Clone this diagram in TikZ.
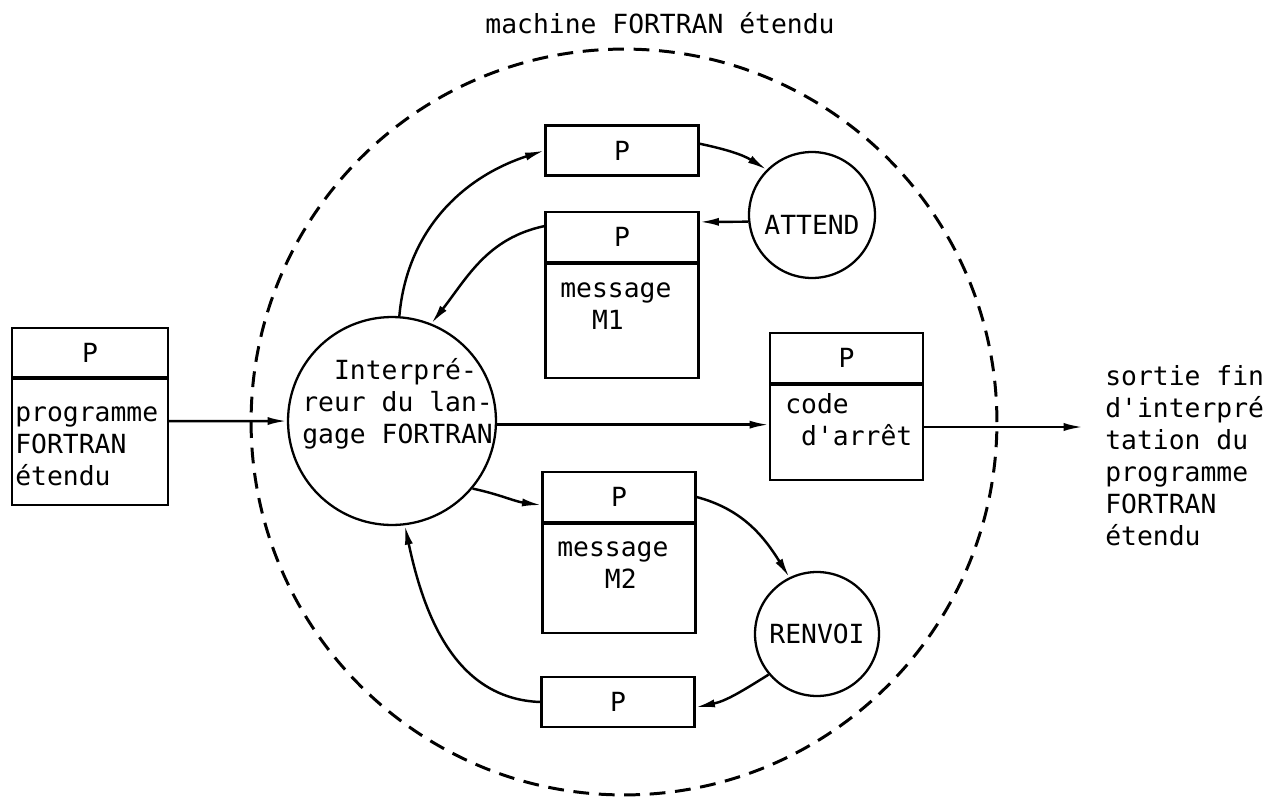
\documentclass[tikz,border=0pt]{standalone}
\usepackage{fontspec}
\setmonofont{DejaVu Sans Mono}
\usetikzlibrary{arrows.meta, positioning}

\begin{document}
\begin{tikzpicture}[
    x=0.02cm, y=-0.02cm,
    every node/.style={font=\ttfamily\fontsize{15}{18.2}\selectfont},
    hdr/.style={draw, line width=1.3pt, minimum width=3.06cm, minimum height=1cm, inner sep=0pt},
    bdy/.style={draw, line width=1.3pt, minimum width=3.06cm, inner sep=0pt, anchor=north},
    proc/.style={draw, circle, line width=1.3pt, inner sep=0pt},
    frontier/.style={draw, circle, line width=1.7pt, dash pattern=on 9pt off 5.5pt,
                     minimum size=14.92cm, inner sep=0pt},
    txt/.style={anchor=base west, align=left, inner sep=0pt},
    arr/.style={-{Latex[length=11pt, width=4.6pt]}, line width=1.4pt}
  ]
    \useasboundingbox (0,0) rectangle (1278,801);
    \node[anchor=base] (title) at (660,33) {machine FORTRAN étendu};
    \node[frontier] (machine) at (624,422) {};
    % programme d'entree
    \node[hdr, minimum width=3.12cm, minimum height=0.98cm] (prog) at (90,352.5) {P};
    \node[bdy, minimum width=3.12cm, minimum height=2.52cm] (progb) at (prog.south) {};
    \node[txt] (progt) at (15,485) {programme\\FORTRAN\\étendu};
    % interpreteur
    \node[proc, minimum size=4.16cm] (interp) at (392,421) {};
    \node[txt] (interpt) at (302,443) {\phantom{In}Interpré-\\reur du lan-\\gage FORTRAN};
    % boucle ATTEND
    \node[hdr] (pa) at (622,150.5) {P};
    \node[hdr] (m1) at (622,237) {P};
    \node[bdy, minimum height=2.28cm] (m1b) at (m1.south) {};
    \node[txt] (m1t) at (560,329) {message\\\phantom{me}M1};
    \node[proc, minimum size=2.52cm, text height=22pt, text depth=0pt] (attend) at (812,215) {ATTEND};
    % sortie
    \node[hdr] (code) at (846.5,358) {P};
    \node[bdy, minimum height=1.9cm] (codeb) at (code.south) {};
    \node[txt] (codet) at (785,445) {code\\\phantom{c}d'arrêt};
    \node[txt] (sortie) at (1105,545) {sortie fin\\d'interpré\\tation du\\programme\\FORTRAN\\étendu};
    \coordinate (fin) at (1083,427);
    % boucle RENVOI
    \node[hdr] (m2) at (619,497) {P};
    \node[bdy, minimum height=2.18cm] (m2b) at (m2.south) {};
    \node[txt] (m2t) at (557,588) {message\\\phantom{mes}M2};
    \node[proc, minimum size=2.48cm] (renvoi) at (817,634) {RENVOI};
    \node[hdr] (pb) at (618,702) {P};
    % connexions
    \draw[arr] (progb.15) -- (interp);
    \draw[arr] (interp.-2) -- (interp.-2 -| codeb.west);
    \draw[arr] (fin -| codeb.east) -- (fin);
    \draw[arr] (interp.86) to[out=85, in=198] (pa.west);
    \draw[arr] (pa.5) to[out=-12, in=148] (attend.135);
    \draw[arr] (attend.186) -- (m1.11);
    \draw[arr] (m1.172) to[out=192, in=52] (interp.68);
    \draw[arr] (interp.-40) to[out=-12, in=172] (m2.186);
    \draw[arr] (m2.east) to[out=-15, in=122] (renvoi.116);
    \draw[arr] (renvoi.220) to[out=212, in=12] (pb.-4);
    \draw[arr] (pb.west) to[out=178, in=282] (interp.-83);
  \end{tikzpicture}
\end{document}
